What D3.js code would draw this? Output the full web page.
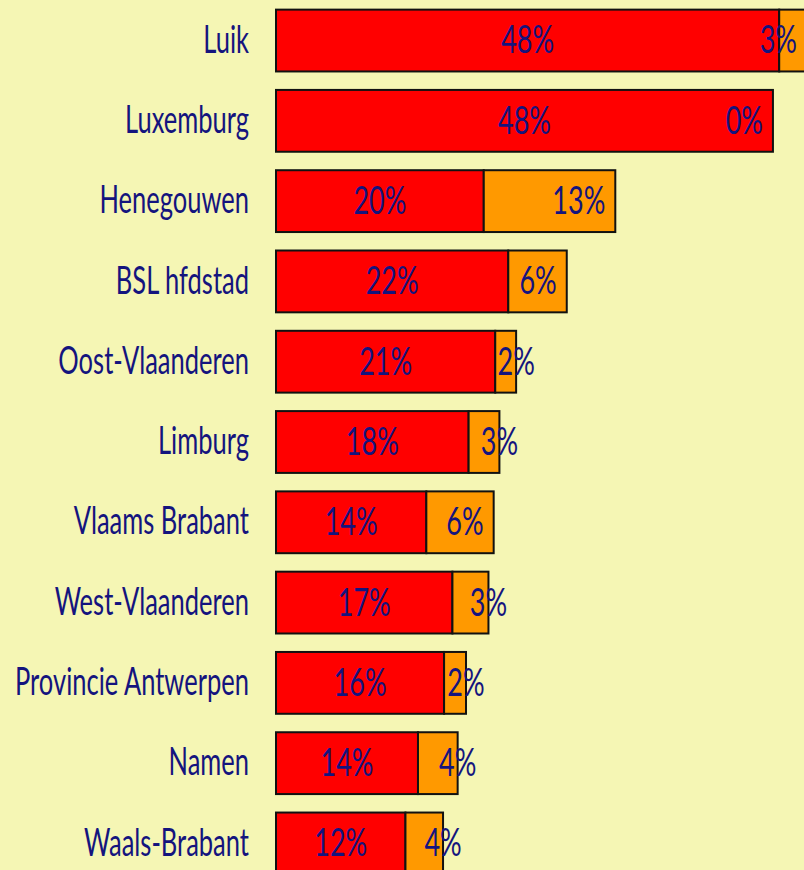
<!DOCTYPE html>
<html>
<head>
<meta charset="utf-8">
<script src="https://cdn.jsdelivr.net/npm/d3@7"></script>
<style>
  html, body { margin: 0; padding: 0; background: #f5f6b4; overflow: hidden; }
  svg { display: block; }
</style>
</head>
<body>
<div id="chart"></div>
<script>
const categories = ["Luik", "Luxemburg", "Henegouwen", "BSL hfdstad", "Oost-Vlaanderen", "Limburg",
  "Vlaams Brabant", "West-Vlaanderen", "Provincie Antwerpen", "Namen", "Waals-Brabant"];
const redValues    = [48.2, 47.6, 19.9, 22.25, 21.0, 18.45, 14.4, 16.9, 16.1, 13.6, 12.4];
const orangeValues = [2.8, 0.0, 12.6, 5.6, 2.0, 2.95, 6.45, 3.45, 2.1, 3.8, 3.6];
const seriesNames = ["red", "orange"];
const seriesColors = ["#ff0000", "#ff9900"];

const W = 804, H = 884;
const margin = { left: 276, right: 6, top: 0, bottom: 0 };
const textColor = "#14147e";
const fontFamily = "Lato, 'Liberation Sans', sans-serif";
const fontWeight = 400;
const fontSize = 38;

const data = categories.map((c, i) => ({ cat: c, red: redValues[i], orange: orangeValues[i] }));
const stack = d3.stack().keys(seriesNames)(data);

const x = d3.scaleLinear().domain([0, 50]).range([margin.left, W - margin.right]);
const y = d3.scaleBand().domain(categories).range([margin.top, H - margin.bottom])
  .paddingInner(0.23).paddingOuter(0.12);

const svg = d3.select("#chart").append("svg").attr("width", W).attr("height", H);
svg.append("rect").attr("width", W).attr("height", H).attr("fill", "#f5f6b4");

// condensing factors so text matches the reference widths ("Provincie Antwerpen" ~234px, "21%" ~53px)
function measure(txt) {
  const t = svg.append("text").attr("font-family", fontFamily).attr("font-weight", fontWeight)
    .attr("font-size", fontSize).text(txt);
  const w = t.node().getComputedTextLength();
  t.remove();
  return w;
}
const sxCat = 234 / measure("Provincie Antwerpen");
const sxVal = 53 / measure("21%");

// bars
const layers = svg.selectAll("g.layer").data(stack).join("g")
  .attr("class", "layer").attr("fill", (d, i) => seriesColors[i]);
layers.selectAll("rect").data(d => d).join("rect")
  .attr("x", d => x(d[0]))
  .attr("y", d => y(d.data.cat))
  .attr("width", d => x(d[1]) - x(d[0]))
  .attr("height", y.bandwidth())
  .attr("stroke", "#111")
  .attr("stroke-width", 2);

// category labels
const catG = svg.selectAll("g.cat").data(categories).join("g")
  .attr("class", "cat")
  .attr("transform", d => `translate(${margin.left - 27},${y(d) + y.bandwidth() / 2})`);
catG.append("text")
  .attr("transform", `scale(${sxCat},1)`)
  .attr("text-anchor", "end")
  .attr("dy", "0.32em")
  .attr("fill", textColor)
  .attr("font-family", fontFamily)
  .attr("font-weight", fontWeight)
  .attr("font-size", fontSize)
  .text(d => d);

// value labels
function addLabel(xPos, yPos, anchor, txt) {
  const g = svg.append("g").attr("transform", `translate(${xPos},${yPos})`);
  const t = g.append("text")
    .attr("transform", `scale(${sxVal},1)`)
    .attr("text-anchor", anchor)
    .attr("dy", "0.34em")
    .attr("fill", textColor)
    .attr("font-family", fontFamily)
    .attr("font-weight", fontWeight)
    .attr("font-size", fontSize)
    .text(txt);
  return { g, t };
}

stack[0].forEach(d => {
  const cy = y(d.data.cat) + y.bandwidth() / 2;
  addLabel((x(d[0]) + x(d[1])) / 2, cy, "middle", Math.round(d.data.red) + "%");
});
stack[1].forEach(d => {
  const cy = y(d.data.cat) + y.bandwidth() / 2;
  const txt = Math.round(d.data.orange) + "%";
  const lab = addLabel(0, cy, "end", txt);
  const tw = lab.t.node().getComputedTextLength() * sxVal;
  const segW = x(d[1]) - x(d[0]);
  if (d.data.orange === 0 || segW >= tw + 20) {
    lab.g.attr("transform", `translate(${x(d[1]) - 10},${cy})`);
  } else {
    lab.t.attr("text-anchor", "middle");
    const cx = Math.min(x(d[1]), W - 7 - tw / 2);
    lab.g.attr("transform", `translate(${cx},${cy})`);
  }
});
</script>
</body>
</html>
